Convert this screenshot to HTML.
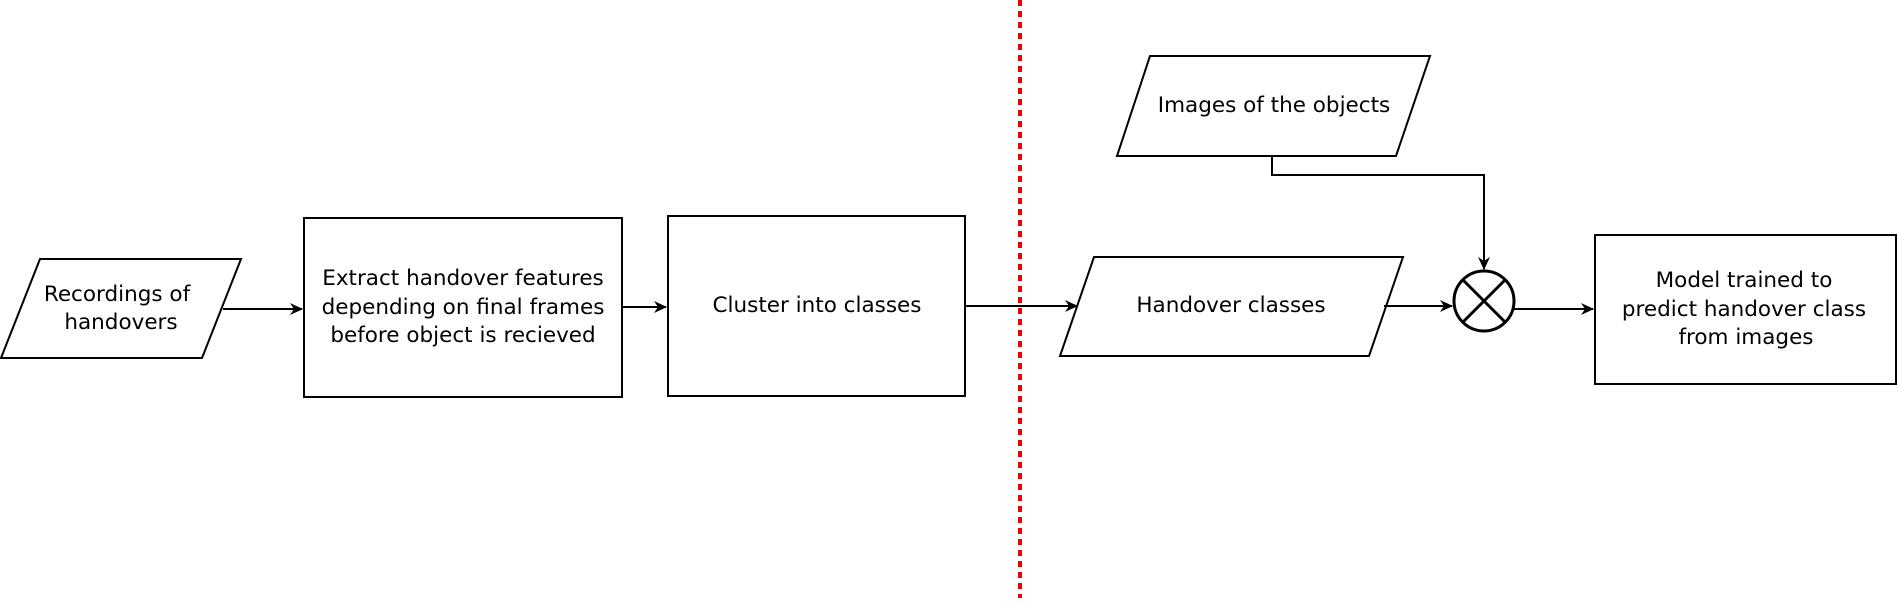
<!DOCTYPE html>
<html><head><style>body{margin:0;background:#fff}svg{display:block}text{font-family:"DejaVu Sans",sans-serif;font-size:21.5px;fill:#000}</style></head>
<body>
<svg width="1898" height="606" xmlns="http://www.w3.org/2000/svg">
<defs><marker id="a" markerWidth="14" markerHeight="14" refX="12" refY="7" orient="auto" markerUnits="userSpaceOnUse"><path d="M0,1 L13,7 L0,13 L4,7 Z" fill="#000"/></marker></defs>
<g fill="none" stroke="#000" stroke-width="2">
<polygon points="40,259 241,259 202,358 1,358" fill="#fff"/>
<rect x="304" y="218" width="318" height="179" fill="#fff"/>
<rect x="668" y="216" width="297" height="180" fill="#fff"/>
<polygon points="1094,257 1403,257 1369,356 1060,356" fill="#fff"/>
<polygon points="1150,56 1430,56 1396,156 1117,156" fill="#fff"/>
<rect x="1595" y="235" width="301" height="149" fill="#fff"/>
<circle cx="1484" cy="301" r="30" stroke-width="3" fill="#fff"/>
<line x1="1463" y1="280" x2="1505" y2="322" stroke-width="3"/>
<line x1="1505" y1="280" x2="1463" y2="322" stroke-width="3"/>
<line x1="223" y1="309" x2="302" y2="309" marker-end="url(#a)"/>
<line x1="622" y1="307" x2="666" y2="307" marker-end="url(#a)"/>
<line x1="965" y1="306" x2="1077" y2="306" marker-end="url(#a)"/>
<line x1="1384" y1="306" x2="1452" y2="306" marker-end="url(#a)"/>
<line x1="1514" y1="309" x2="1593" y2="309" marker-end="url(#a)"/>
<polyline points="1272,156 1272,175 1484,175 1484,269" marker-end="url(#a)"/>
</g>
<line x1="1020" y1="0" x2="1020" y2="598" stroke="#e00" stroke-width="4" stroke-dasharray="6,5"/>
<g text-anchor="middle">
<text x="117" y="301">Recordings of</text><text x="121" y="329">handovers</text>
<text x="463" y="285">Extract handover features</text>
<text x="463" y="314">depending on final frames</text>
<text x="463" y="342">before object is recieved</text>
<text x="817" y="312">Cluster into classes</text>
<text x="1231" y="312">Handover classes</text>
<text x="1274" y="112">Images of the objects</text>
<text x="1744" y="287">Model trained to</text>
<text x="1744" y="316">predict handover class</text>
<text x="1746" y="344">from images</text>
</g>
</svg>
</body></html>
